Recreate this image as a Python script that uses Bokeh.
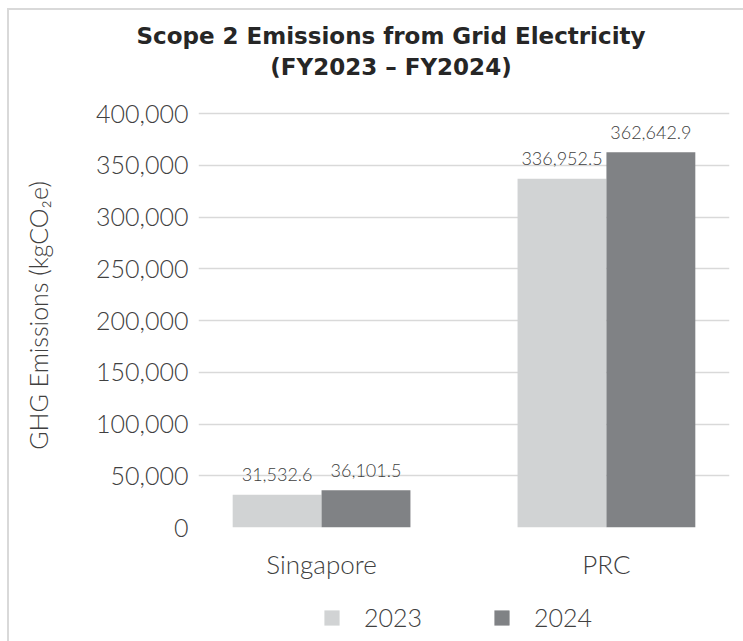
from bokeh.plotting import figure
from bokeh.models import (ColumnDataSource, FactorRange, Range1d, FixedTicker,
                          NumeralTickFormatter, Legend, LegendItem, Div)
from bokeh.layouts import column
from bokeh.transform import dodge
from bokeh.core.properties import value
from bokeh.embed import file_html
from bokeh.resources import INLINE

# ---- data ----
regions = ["Singapore", "PRC"]
years = ["2023", "2024"]
fy2023 = [31532.6, 336952.5]
fy2024 = [36101.5, 362642.9]
y_ticks = [0, 50000, 100000, 150000, 200000, 250000, 300000, 350000, 400000]
title_lines = ["Scope 2 Emissions from Grid Electricity", "(FY2023 \u2013 FY2024)"]
y_label = "GHG Emissions (kgCO\u2082e)"

FONT = "Lato Light"
TXT = "#404040"
C23 = "#D1D3D4"
C24 = "#808285"
W = 734

src = ColumnDataSource(dict(
    region=regions,
    fy2023=fy2023,
    fy2024=fy2024,
    lab2023=[f"{v:,.1f}" for v in fy2023],
    lab2024=[f"{v:,.1f}" for v in fy2024],
))

# ---- title ----
title = Div(
    text=('<div style="width:600px;margin-left:82px;text-align:center;'
          'padding-top:11px;line-height:31px;font-family:\'DejaVu Sans\';'
          'font-weight:bold;font-size:23px;color:#262626;">'
          + "<br>".join(title_lines) + "</div>"),
    width=W, height=72, margin=0)

# ---- main chart ----
p = figure(width=W, height=503, output_backend="svg", toolbar_location=None,
           title=None,
           x_range=FactorRange(*regions, range_padding=-0.068),
           y_range=Range1d(0, 409700),
           min_border_left=189, min_border_right=14,
           min_border_top=21, min_border_bottom=58)
p.outline_line_color = None
p.background_fill_color = "white"
p.border_fill_color = "white"

bw = 0.312
p.vbar(x=dodge("region", -bw / 2, range=p.x_range), top="fy2023", width=bw,
       source=src, fill_color=C23, line_color=None)
p.vbar(x=dodge("region", bw / 2, range=p.x_range), top="fy2024", width=bw,
       source=src, fill_color=C24, line_color=None)

for col, lab, off in (("fy2023", "lab2023", -bw / 2), ("fy2024", "lab2024", bw / 2)):
    p.text(x=dodge("region", off, range=p.x_range), y=col, text=lab, source=src,
           text_align="center", text_baseline="alphabetic", y_offset=-20,
           text_font=value(FONT), text_font_size="18px", text_color=TXT)

p.xaxis.axis_line_color = None
p.xaxis.major_tick_line_color = None
p.xaxis.major_tick_out = 0
p.xaxis.major_tick_in = 0
p.xaxis.major_label_standoff = 20
p.xaxis.major_label_text_font = FONT
p.xaxis.major_label_text_font_size = "26px"
p.xaxis.major_label_text_color = TXT

p.yaxis.ticker = FixedTicker(ticks=y_ticks)
p.yaxis.formatter = NumeralTickFormatter(format="0,0")
p.yaxis.axis_line_color = None
p.yaxis.major_tick_line_color = None
p.yaxis.minor_tick_line_color = None
p.yaxis.major_tick_out = 0
p.yaxis.major_tick_in = 0
p.yaxis.major_label_standoff = 10
p.yaxis.major_label_text_font = FONT
p.yaxis.major_label_text_font_size = "25px"
p.yaxis.major_label_text_color = TXT
p.yaxis.axis_label = y_label
p.yaxis.axis_label_text_font = FONT
p.yaxis.axis_label_text_font_style = "normal"
p.yaxis.axis_label_text_font_size = "25px"
p.yaxis.axis_label_text_color = TXT
p.yaxis.axis_label_standoff = 40

p.xgrid.grid_line_color = None
p.ygrid.ticker = FixedTicker(ticks=y_ticks)
p.ygrid.grid_line_color = "#d9d9d9"
p.ygrid.grid_line_width = 1.5

# ---- legend strip (same bars, far outside its view; only the legend shows) ----
lg = figure(width=W, height=56, output_backend="svg", toolbar_location=None,
            title=None, x_axis_location=None, y_axis_location=None,
            x_range=FactorRange(*regions), y_range=Range1d(1e8, 2e8),
            min_border=0, min_border_left=0, min_border_right=0,
            min_border_top=0, min_border_bottom=0)
lg.outline_line_color = None
lg.xgrid.visible = False
lg.ygrid.visible = False
lr1 = lg.vbar(x=dodge("region", -bw / 2, range=lg.x_range), top="fy2023", width=bw,
              source=src, fill_color=C23, line_color=None)
lr2 = lg.vbar(x=dodge("region", bw / 2, range=lg.x_range), top="fy2024", width=bw,
              source=src, fill_color=C24, line_color=None)
legend = Legend(items=[LegendItem(label=years[0], renderers=[lr1]),
                       LegendItem(label=years[1], renderers=[lr2])],
                orientation="horizontal", location=(124, 9),
                glyph_width=19, glyph_height=19, label_standoff=23, spacing=70,
                padding=0, margin=0, border_line_color=None,
                background_fill_alpha=0,
                label_text_font=FONT, label_text_font_size="25px",
                label_text_color=TXT)
lg.add_layout(legend, "center")

layout = column(title, p, lg)
layout.styles = {"margin-left": "7px", "margin-top": "8px",
                 "border-left": "2px solid #d9d9d9", "border-top": "2px solid #d9d9d9"}

open("out.html", "w").write(file_html(layout, INLINE))
